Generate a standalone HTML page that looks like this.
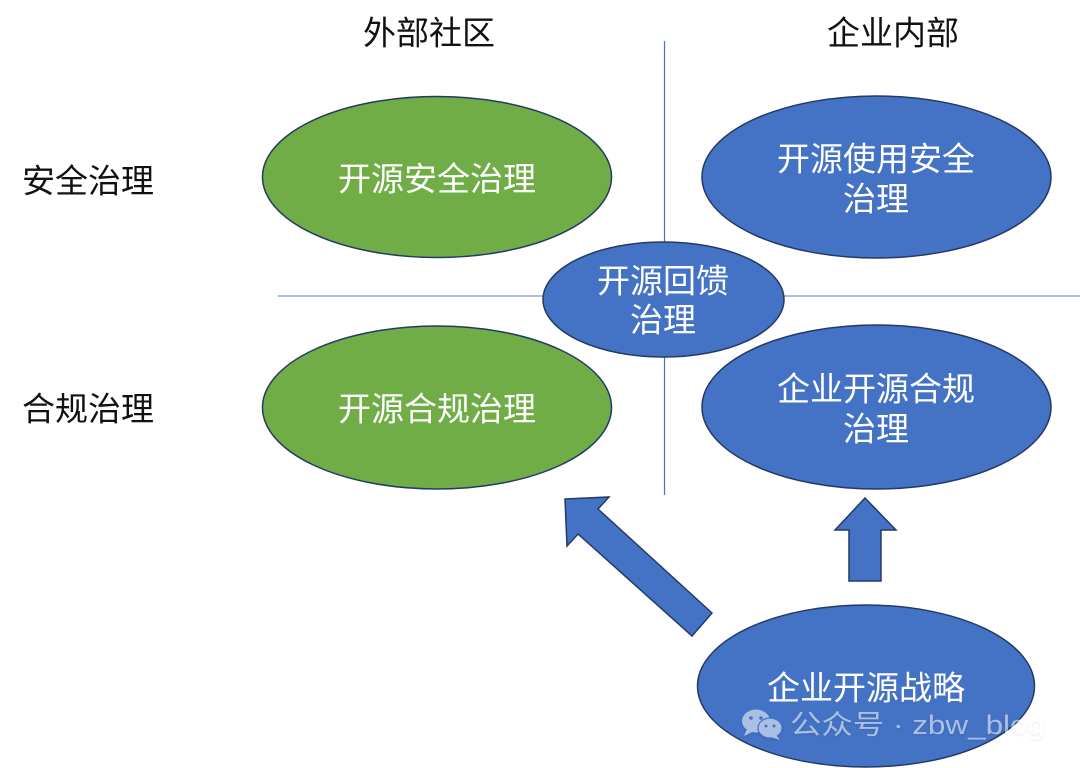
<!DOCTYPE html>
<html>
<head>
<meta charset="utf-8">
<style>
  html, body { margin: 0; padding: 0; background: #ffffff; }
  body { width: 1080px; height: 768px; overflow: hidden; }
  svg { display: block; }
  text { font-family: "Liberation Sans", "Noto Sans CJK SC", sans-serif; }
</style>
</head>
<body>
<svg width="1080" height="768" viewBox="0 0 1080 768" xmlns="http://www.w3.org/2000/svg">
  <defs>
    <filter id="sh" x="-10%" y="-30%" width="120%" height="160%">
      <feDropShadow dx="0" dy="1" stdDeviation="1.2" flood-color="#000" flood-opacity="0.18"/>
    </filter>
  </defs>

  <!-- axis lines -->
  <line x1="664.5" y1="41" x2="664.5" y2="495" stroke="#4472C4" stroke-width="1.2"/>
  <line x1="278" y1="296" x2="1080" y2="296" stroke="#9DB4E2" stroke-width="1.8"/>

  <!-- column headers -->
  <text x="429" y="33" font-size="33" fill="#111" text-anchor="middle" dominant-baseline="central">外部社区</text>
  <text x="893" y="33" font-size="33" fill="#111" text-anchor="middle" dominant-baseline="central">企业内部</text>

  <!-- row labels -->
  <text x="88" y="181" font-size="33" fill="#111" text-anchor="middle" dominant-baseline="central">安全治理</text>
  <text x="88" y="409" font-size="33" fill="#111" text-anchor="middle" dominant-baseline="central">合规治理</text>

  <!-- green ellipses -->
  <ellipse cx="437" cy="177" rx="174.5" ry="80.5" fill="#70AD47" stroke="#243A64" stroke-width="1.5"/>
  <text x="437" y="179" font-size="33" fill="#ffffff" text-anchor="middle" dominant-baseline="central">开源安全治理</text>

  <ellipse cx="437" cy="407.5" rx="174.5" ry="81.5" fill="#70AD47" stroke="#243A64" stroke-width="1.5"/>
  <text x="437" y="409" font-size="33" fill="#ffffff" text-anchor="middle" dominant-baseline="central">开源合规治理</text>

  <!-- blue ellipses right -->
  <ellipse cx="876.5" cy="177" rx="174.5" ry="81" fill="#4472C4" stroke="#243A64" stroke-width="1.5"/>
  <text x="876" y="159" font-size="33" fill="#ffffff" text-anchor="middle" dominant-baseline="central">开源使用安全</text>
  <text x="876" y="199" font-size="33" fill="#ffffff" text-anchor="middle" dominant-baseline="central">治理</text>

  <ellipse cx="876.5" cy="407" rx="174.5" ry="82" fill="#4472C4" stroke="#243A64" stroke-width="1.5"/>
  <text x="876" y="389" font-size="33" fill="#ffffff" text-anchor="middle" dominant-baseline="central">企业开源合规</text>
  <text x="876" y="429" font-size="33" fill="#ffffff" text-anchor="middle" dominant-baseline="central">治理</text>

  <!-- center ellipse -->
  <ellipse cx="663.5" cy="299.5" rx="120.5" ry="57.5" fill="#4472C4" stroke="#243A64" stroke-width="1.5"/>
  <text x="663" y="281" font-size="33" fill="#ffffff" text-anchor="middle" dominant-baseline="central">开源回馈</text>
  <text x="663" y="320" font-size="33" fill="#ffffff" text-anchor="middle" dominant-baseline="central">治理</text>

  <!-- arrows -->
  <polygon points="565,499 609,497 598,509 712,613 692,636 578,534 567,546" fill="#4472C4" stroke="#243A64" stroke-width="1.5" stroke-linejoin="miter"/>
  <polygon points="865,498 896,530 881,530 881,581 849,581 849,530 835,530" fill="#4472C4" stroke="#243A64" stroke-width="1.5" stroke-linejoin="miter"/>

  <!-- bottom ellipse -->
  <ellipse cx="866" cy="686" rx="168.5" ry="81" fill="#4472C4" stroke="#243A64" stroke-width="1.5"/>
  <text x="866" y="688" font-size="33" fill="#ffffff" text-anchor="middle" dominant-baseline="central">企业开源战略</text>

  <!-- watermark -->
  <g opacity="0.55" filter="url(#sh)">
    <ellipse cx="756" cy="721" rx="14" ry="11.5" fill="#ffffff"/>
    <polygon points="747,729 744,736 754,731" fill="#ffffff"/>
    <ellipse cx="770" cy="728" rx="12" ry="10" fill="#ffffff" stroke="#4472C4" stroke-width="1.2"/>
    <polygon points="776,735 780,740 771,737" fill="#ffffff"/>
    <circle cx="751" cy="718" r="1.8" fill="#4472C4"/>
    <circle cx="761" cy="718" r="1.8" fill="#4472C4"/>
    <circle cx="766" cy="726" r="1.5" fill="#4472C4"/>
    <circle cx="774" cy="726" r="1.5" fill="#4472C4"/>
    <text x="790" y="725" font-size="27" fill="#ffffff" dominant-baseline="central" textLength="255" lengthAdjust="spacingAndGlyphs">公众号 · zbw_blog</text>
  </g>
</svg>
</body>
</html>
